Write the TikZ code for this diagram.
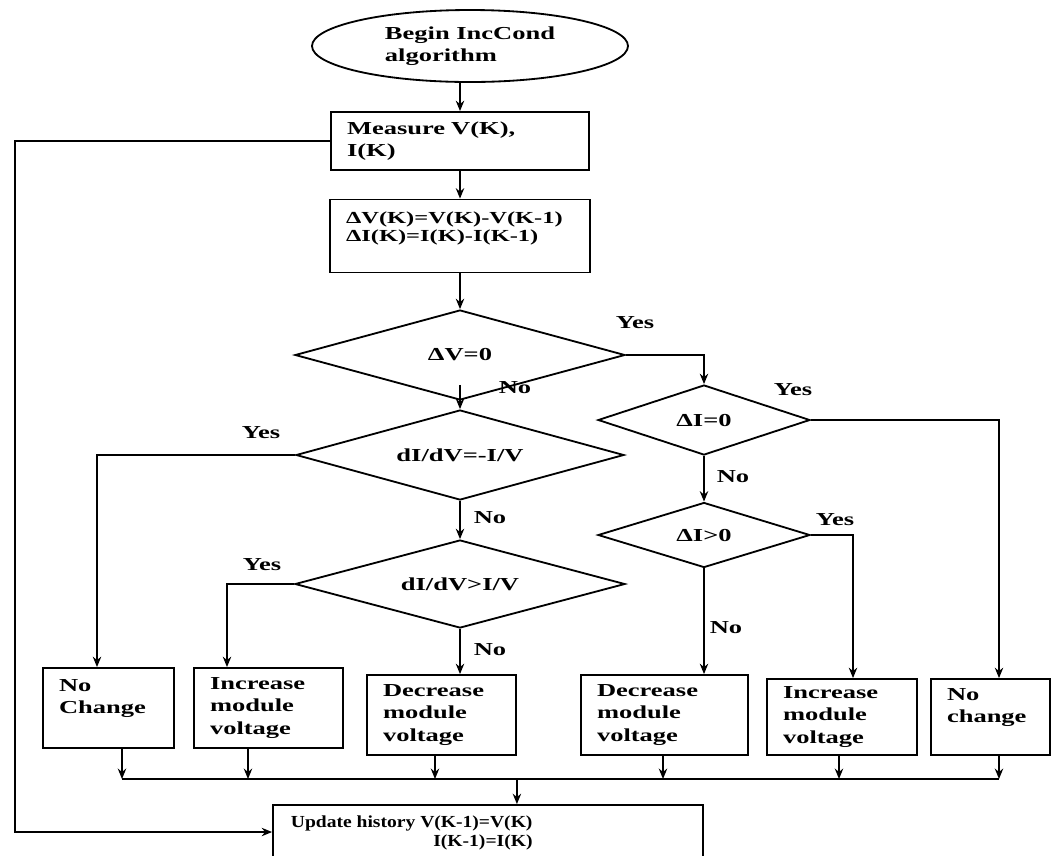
\documentclass[tikz,border=0pt]{standalone}
\usepackage{fontspec}
\setmainfont{Liberation Serif}[FakeStretch=1.45]
\newfontfamily\narrowserif{Liberation Serif}[FakeStretch=1.16]
\usetikzlibrary{positioning, arrows.meta, shapes.geometric}

\begin{document}
\begin{tikzpicture}[line width=1.3pt, font=\fontsize{13}{16}\selectfont\bfseries,
	box/.style={draw, rectangle, align=left, inner xsep=0.4cm},
	test/.style={draw, diamond, aspect=3, inner sep=1pt},
	arr/.style={-{Stealth[length=2.6mm, width=2.1mm]}}]
		\useasboundingbox (0,0) rectangle (26.325,-21.375);

		% Start and measurement
		\node (start) at (11.75,-1.15) [draw, ellipse, minimum width=7.9cm, minimum height=1.8cm, inner sep=0pt, align=left] {Begin IncCond\\algorithm};
		\node (meas) at (11.5,-3.525) [box, text width=5.65cm, minimum height=1.45cm] {Measure V(K),\\I(K)};
		\node (diff) at (11.5,-5.9) [box, text width=5.7cm, minimum height=1.825cm, font=\fontsize{12}{13}\selectfont\bfseries] {ΔV(K)=V(K)-V(K-1)\\ΔI(K)=I(K)-I(K-1)\\~};
		\draw[arr] (meas.north |- start.south) -- (meas.north);
		\draw[arr] (meas) -- (diff);

		% Decisions
		\node (dv) at (11.5,-8.875) [test, minimum width=8.25cm, minimum height=2.25cm] {ΔV=0};
		\node (dg1) at (11.5,-11.375) [test, minimum width=8.2cm, minimum height=2.25cm] {dI/dV=-I/V};
		\node (dg2) at (11.5,-14.6) [test, minimum width=8.25cm, minimum height=2.2cm] {dI/dV>I/V};
		\node (di0) at (17.6,-10.5) [test, minimum width=5.3cm, minimum height=1.75cm] {ΔI=0};
		\node (dip) at (17.6,-13.375) [test, minimum width=5.3cm, minimum height=1.625cm] {ΔI>0};
		\draw[arr] (diff) -- (dv);
		\draw[arr] ([yshift=0.4cm]dv.south) -- (dg1.north);
		\draw[arr] (dg1) -- (dg2);
		\draw[arr] (dv.east) -| (di0.north);
		\draw[arr] (di0) -- (dip);

		\node (yes1) at (15.875,-8.075) {Yes};
		\node (no1) at (12.875,-9.7) {No};
		\node (yes2) at (19.825,-9.75) {Yes};
		\node (no2) at (18.325,-11.925) {No};
		\node (yes3) at (20.875,-13.0) {Yes};
		\node (no3) at (18.15,-15.7) {No};
		\node (yes4) at (6.525,-10.825) {Yes};
		\node (no4) at (12.25,-12.95) {No};
		\node (yes5) at (6.55,-14.125) {Yes};
		\node (no5) at (12.25,-16.25) {No};

		% Outcomes
		\node (nc1) at (2.7125,-17.7) [box, text width=2.475cm, minimum height=2cm] {No\\Change\\~};
		\node (inc1) at (6.7125,-17.7) [box, text width=2.925cm, minimum height=2cm] {Increase\\module\\voltage};
		\node (dec1) at (11.0375,-17.875) [box, text width=2.925cm, minimum height=2cm] {Decrease\\module\\voltage};
		\node (dec2) at (16.6125,-17.875) [box, text width=3.375cm, minimum height=2cm] {Decrease\\module\\voltage};
		\node (inc2) at (21.05,-17.925) [box, text width=2.95cm, minimum height=1.9cm] {Increase\\module\\voltage};
		\node (nc2) at (24.7625,-17.925) [box, text width=2.175cm, minimum height=1.9cm] {No\\change\\~};

		\draw[arr] (dg1.west) -| ([xshift=-0.2875cm]nc1.north);
		\draw[arr] (dg2.west) -| ([xshift=-1.0375cm]inc1.north);
		\draw[arr] (dg2.south) -- (dg2.south |- dec1.north);
		\draw[arr] (dip.south) -- (dip.south |- dec2.north);
		\draw[arr] (dip.east) -| ([xshift=0.275cm]inc2.north);
		\draw[arr] (di0.east) -| ([xshift=0.2125cm]nc2.north);

		% Collecting line and update
		\coordinate (busl) at (3.05,-19.475);
		\coordinate (busr) at (24.975,-19.475);
		\draw (busl) -- (busr);
		\foreach \b/\x in {nc1/3.05, inc1/6.2, dec1/10.875, dec2/16.575, inc2/20.975, nc2/24.975}
			\draw[arr] (\b.south -| \x,0) -- (busl -| \x,0);

		\node (upd) at (12.2,-21.0125) [draw, rectangle, minimum width=10.75cm, minimum height=1.775cm] {};
		\node (updtext) at (7.25,-20.375) [anchor=north west, inner sep=0pt, align=right, font=\narrowserif\fontsize{12}{13.5}\selectfont\bfseries] {Update history V(K-1)=V(K)\\I(K-1)=I(K)};
		\draw[arr] (dec1.east |- busl) -- (dec1.east |- upd.north);

		\coordinate (fb) at (0.375,-20.8);
		\draw[arr] (meas.west) -| (fb) -- (fb -| upd.west);
\end{tikzpicture}
\end{document}
